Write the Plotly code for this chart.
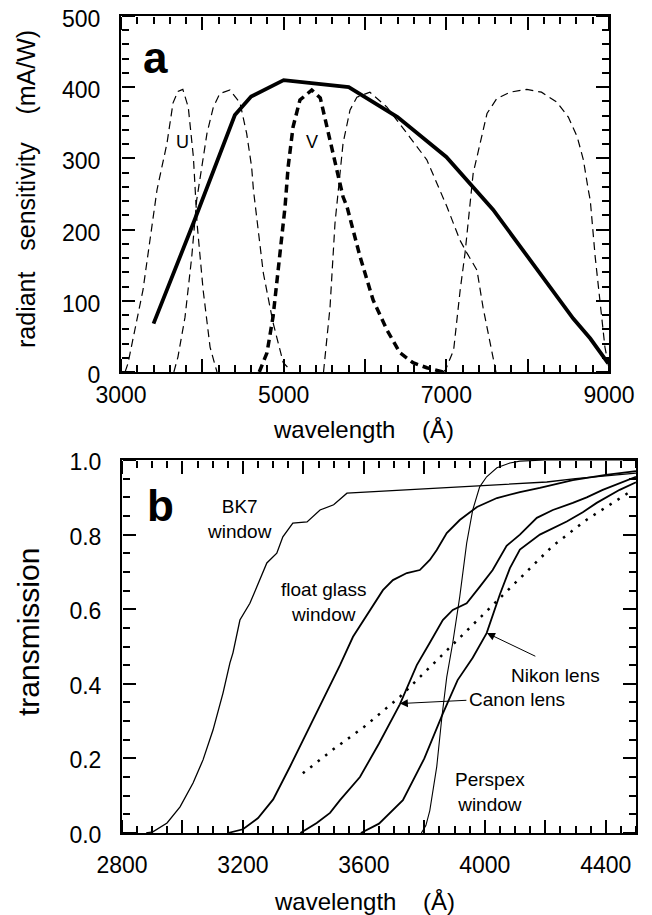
import plotly.graph_objects as go

# ---------------- panel a: radiant sensitivity ----------------
det_wl = [3400, 3900, 4400, 4600, 5000, 5800, 6400, 7000, 7575, 8560, 8770, 8990]
det_sens = [68, 212, 361, 387, 410, 400, 358, 302, 228, 75, 47, 12]

u_wl = [3050, 3086, 3270, 3443, 3565, 3640, 3700, 3760, 3827, 3890, 3935, 4010, 4095, 4180]
u_val = [0, 12, 115, 256, 321, 378, 394, 397, 372, 302, 209, 115, 35, 0]

b_wl = [3650, 3700, 3787, 3870, 3930, 3970, 4057, 4135, 4215, 4340, 4463, 4545, 4606, 4628, 4750, 4870, 4995, 5080]
b_val = [0, 21, 77, 162, 241, 270, 335, 372, 391, 396, 378, 335, 288, 256, 139, 69, 13, 3]

v_wl = [4700, 4795, 4870, 4955, 5017, 5055, 5115, 5200, 5345, 5450, 5533, 5607, 5730, 5779, 5939, 6100, 6270, 6430, 6590, 6760, 6960]
v_val = [0, 27, 78, 162, 232, 288, 344, 382, 396, 385, 344, 302, 246, 232, 162, 101, 59, 27, 13, 6, 0]

r_wl = [5490, 5508, 5545, 5570, 5631, 5670, 5730, 5816, 5900, 6060, 6270, 6550, 6760, 7008, 7168, 7254, 7377, 7451, 7574, 7610]
r_val = [0, 21, 69, 91, 209, 256, 321, 368, 386, 393, 372, 330, 298, 232, 185, 167, 143, 91, 17, 0]

i_wl = [6960, 6990, 7090, 7170, 7230, 7290, 7330, 7415, 7500, 7620, 7785, 7990, 8170, 8360, 8500, 8610, 8685, 8745, 8770, 8830, 8890, 8950, 9000]
i_val = [0, 3, 31, 115, 167, 241, 279, 321, 363, 384, 393, 397, 393, 379, 358, 330, 298, 256, 241, 162, 101, 35, 5]

a_xrange = [3000, 9000]
a_yrange = [0, 500]
a_hidden_labels = ["4000", "6000", "8000"]   # unlabeled major ticks

# ---------------- panel b: transmission ----------------
bk7_wl = [2880, 2902, 2949, 2992, 3035, 3068, 3101, 3134, 3157, 3167, 3190, 3223, 3246, 3279, 3312, 3332, 3365, 3412, 3455, 3500, 3544, 4205, 4300, 4400, 4500]
bk7_tr = [0, 0.003, 0.027, 0.07, 0.134, 0.196, 0.276, 0.375, 0.456, 0.483, 0.571, 0.616, 0.66, 0.724, 0.75, 0.794, 0.831, 0.834, 0.866, 0.88, 0.911, 0.941, 0.95, 0.958, 0.965]

float_wl = [3150, 3200, 3250, 3300, 3355, 3400, 3455, 3521, 3564, 3620, 3663, 3696, 3742, 3785, 3818, 3841, 3874, 3917, 3974, 4040, 4116, 4182, 4291, 4400, 4500]
float_tr = [0, 0.01, 0.04, 0.09, 0.177, 0.25, 0.34, 0.45, 0.526, 0.598, 0.651, 0.678, 0.697, 0.705, 0.732, 0.759, 0.804, 0.839, 0.874, 0.898, 0.914, 0.925, 0.946, 0.96, 0.97]

canon_wl = [3390, 3444, 3488, 3521, 3587, 3650, 3719, 3775, 3818, 3861, 3894, 3940, 3983, 4026, 4072, 4116, 4172, 4225, 4291, 4337, 4390, 4450, 4500]
canon_tr = [0, 0.027, 0.054, 0.088, 0.15, 0.24, 0.345, 0.45, 0.51, 0.571, 0.598, 0.616, 0.66, 0.705, 0.77, 0.80, 0.845, 0.866, 0.885, 0.9, 0.92, 0.94, 0.955]

nikon_wl = [3590, 3650, 3729, 3800, 3861, 3910, 3960, 4006, 4050, 4083, 4116, 4182, 4271, 4324, 4370, 4446, 4500]
nikon_tr = [0, 0.025, 0.088, 0.2, 0.32, 0.41, 0.47, 0.536, 0.64, 0.71, 0.76, 0.80, 0.835, 0.86, 0.885, 0.92, 0.94]

perspex_wl = [3790, 3805, 3818, 3841, 3858, 3874, 3894, 3917, 3940, 3960, 3983, 4006, 4040, 4083, 4116, 4200, 4500]
perspex_tr = [0, 0.02, 0.06, 0.178, 0.311, 0.418, 0.51, 0.633, 0.777, 0.866, 0.928, 0.955, 0.979, 0.992, 0.997, 1.0, 1.0]

dotted_wl = [3398, 3500, 3600, 3719, 3850, 3993, 4100, 4155, 4225, 4337, 4436, 4490]
dotted_tr = [0.16, 0.225, 0.284, 0.365, 0.47, 0.584, 0.67, 0.715, 0.77, 0.84, 0.893, 0.92]

b_xrange = [2800, 4500]
b_yrange = [0, 1.0]
b_hidden_labels = ["3000", "3400", "3800", "4200"]

FONT = "Liberation Sans, Arial, Helvetica, sans-serif"
OFF = 8                      # page body margin of the browser
W, H = 652 - OFF, 915 - OFF  # figure size so that it fills the window


def px(x):
    return (x - OFF) / W


def py(y):
    return 1 - (y - OFF) / H


fig = go.Figure()


def add(x, y, width, dash="solid", xa="x", ya="y"):
    fig.add_trace(go.Scatter(x=x, y=y, mode="lines", xaxis=xa, yaxis=ya,
                             line=dict(color="black", width=width, dash=dash),
                             showlegend=False, hoverinfo="skip"))


thin_dash = "8px,5px"
add(u_wl, u_val, 1.2, thin_dash)
add(b_wl, b_val, 1.2, thin_dash)
add(r_wl, r_val, 1.2, thin_dash)
add(i_wl, i_val, 1.2, thin_dash)
add(v_wl, v_val, 3.5, "8px,5px")
add(det_wl, det_sens, 3.8)

add(bk7_wl, bk7_tr, 1.3, xa="x2", ya="y2")
add(float_wl, float_tr, 1.8, xa="x2", ya="y2")
add(canon_wl, canon_tr, 1.8, xa="x2", ya="y2")
add(nikon_wl, nikon_tr, 1.8, xa="x2", ya="y2")
add(perspex_wl, perspex_tr, 1.1, xa="x2", ya="y2")
add(dotted_wl, dotted_tr, 2.5, dash="2.5px,7px", xa="x2", ya="y2")

tickfont = dict(family=FONT, size=23, color="black")
frame = dict(showline=True, linewidth=2, linecolor="black", mirror=True, ticks="",
             showgrid=False, zeroline=False, tickfont=tickfont, automargin=False,
             ticklabeloverflow="allow")


def tick_axis(over, side, pos, rng, t0, dt, mdt):
    """Tick-only axis laid on a frame edge so that its outward ticks point into the plot."""
    return dict(overlaying=over, anchor="free", position=pos, side=side, range=rng,
                tickmode="linear", tick0=t0, dtick=dt, ticks="outside", ticklen=13,
                tickwidth=2, tickcolor="black",
                minor=dict(tick0=t0, dtick=mdt, ticks="outside", ticklen=7, tickwidth=2,
                           tickcolor="black", showgrid=False),
                showticklabels=False, showline=False, showgrid=False, zeroline=False,
                automargin=False)


# empty helper traces so every tick axis belongs to a subplot
for xa, ya in [("x3", "y"), ("x4", "y"), ("x", "y3"), ("x", "y4"),
               ("x5", "y2"), ("x6", "y2"), ("x2", "y5"), ("x2", "y6")]:
    fig.add_trace(go.Scatter(x=[None], y=[None], xaxis=xa, yaxis=ya, mode="lines",
                             showlegend=False, hoverinfo="skip"))

fig.update_layout(
    width=W, height=H,
    margin=dict(l=0, r=0, t=0, b=0),
    paper_bgcolor="white", plot_bgcolor="rgba(0,0,0,0)",
    xaxis=dict(domain=[px(121), px(609)], anchor="y", range=a_xrange,
               tickmode="linear", tick0=3000, dtick=1000, tickformat="d",
               labelalias={k: " " for k in a_hidden_labels}, ticklabelstandoff=1, **frame),
    yaxis=dict(domain=[py(372), py(16)], anchor="x", range=a_yrange,
               tickmode="linear", tick0=0, dtick=100, ticklabelstandoff=14, ticklabelshift=3,
               **frame),
    xaxis2=dict(domain=[px(122), px(636)], anchor="y2", range=b_xrange,
                tickmode="linear", tick0=2800, dtick=200, tickformat="d",
                labelalias={k: " " for k in b_hidden_labels}, ticklabelstandoff=10, **frame),
    yaxis2=dict(domain=[py(833), py(460)], anchor="x2", range=b_yrange,
                tickmode="linear", tick0=0, dtick=0.2, tickformat=".1f", ticklabelstandoff=14,
                ticklabelshift=2, **frame),
    xaxis3=tick_axis("x", "top", py(372), a_xrange, 3000, 1000, 200),
    xaxis4=tick_axis("x", "bottom", py(16), a_xrange, 3000, 1000, 200),
    yaxis3=tick_axis("y", "right", px(121), a_yrange, 0, 100, 20),
    yaxis4=tick_axis("y", "left", px(609), a_yrange, 0, 100, 20),
    xaxis5=tick_axis("x2", "top", py(833), b_xrange, 2800, 200, 50),
    xaxis6=tick_axis("x2", "bottom", py(460), b_xrange, 2800, 200, 50),
    yaxis5=tick_axis("y2", "right", px(122), b_yrange, 0, 0.2, 0.05),
    yaxis6=tick_axis("y2", "left", px(636), b_yrange, 0, 0.2, 0.05),
)

NB = "\u00a0"
ann = []


def pann(text, x, y, size, angle=0, bold=False):
    ann.append(dict(text=f"<b>{text}</b>" if bold else text, x=px(x), y=py(y),
                    xref="paper", yref="paper", xanchor="center", yanchor="middle",
                    textangle=angle, showarrow=False,
                    font=dict(family=FONT, size=size, color="black")))


# axis titles
pann("radiant" + NB * 3 + "sensitivity" + NB * 4 + "(mA/W)", 26, 189, 25, angle=-90)
pann("wavelength" + NB * 4 + "(Å)", 363, 429, 24)
pann("transmission", 28, 632, 30, angle=-90)
pann("wavelength" + NB * 4 + "(Å)", 364, 901, 24)
# panel letters
pann("a", 155, 57, 44, bold=True)
pann("b", 160, 506, 44, bold=True)


def dann(text, x, y, size, xr="x", yr="y"):
    ann.append(dict(text=text, x=x, y=y, xref=xr, yref=yr, xanchor="center", yanchor="middle",
                    showarrow=False, font=dict(family=FONT, size=size, color="black")))


# filter labels
dann("U", 3760, 323, 18)
dann("V", 5345, 323, 18)
# panel b labels
dann("BK7<br>window", 3190, 0.843, 19, "x2", "y2")
dann("float glass<br>window", 3468, 0.619, 19, "x2", "y2")
dann("Nikon lens", 4235, 0.421, 19, "x2", "y2")
dann("Canon lens", 4106, 0.357, 19, "x2", "y2")
dann("Perspex<br>window", 4017, 0.11, 19, "x2", "y2")
# arrows
ann.append(dict(text="", x=3719, y=0.347, ax=3944, ay=0.356, xref="x2", yref="y2", axref="x2", ayref="y2",
                showarrow=True, arrowhead=2, arrowsize=1.6, arrowwidth=1, arrowcolor="black"))
ann.append(dict(text="", x=4007, y=0.536, ax=4172, ay=0.472, xref="x2", yref="y2", axref="x2", ayref="y2",
                showarrow=True, arrowhead=2, arrowsize=1.6, arrowwidth=1, arrowcolor="black"))

fig.update_layout(annotations=ann)
fig.write_html("out.html")
